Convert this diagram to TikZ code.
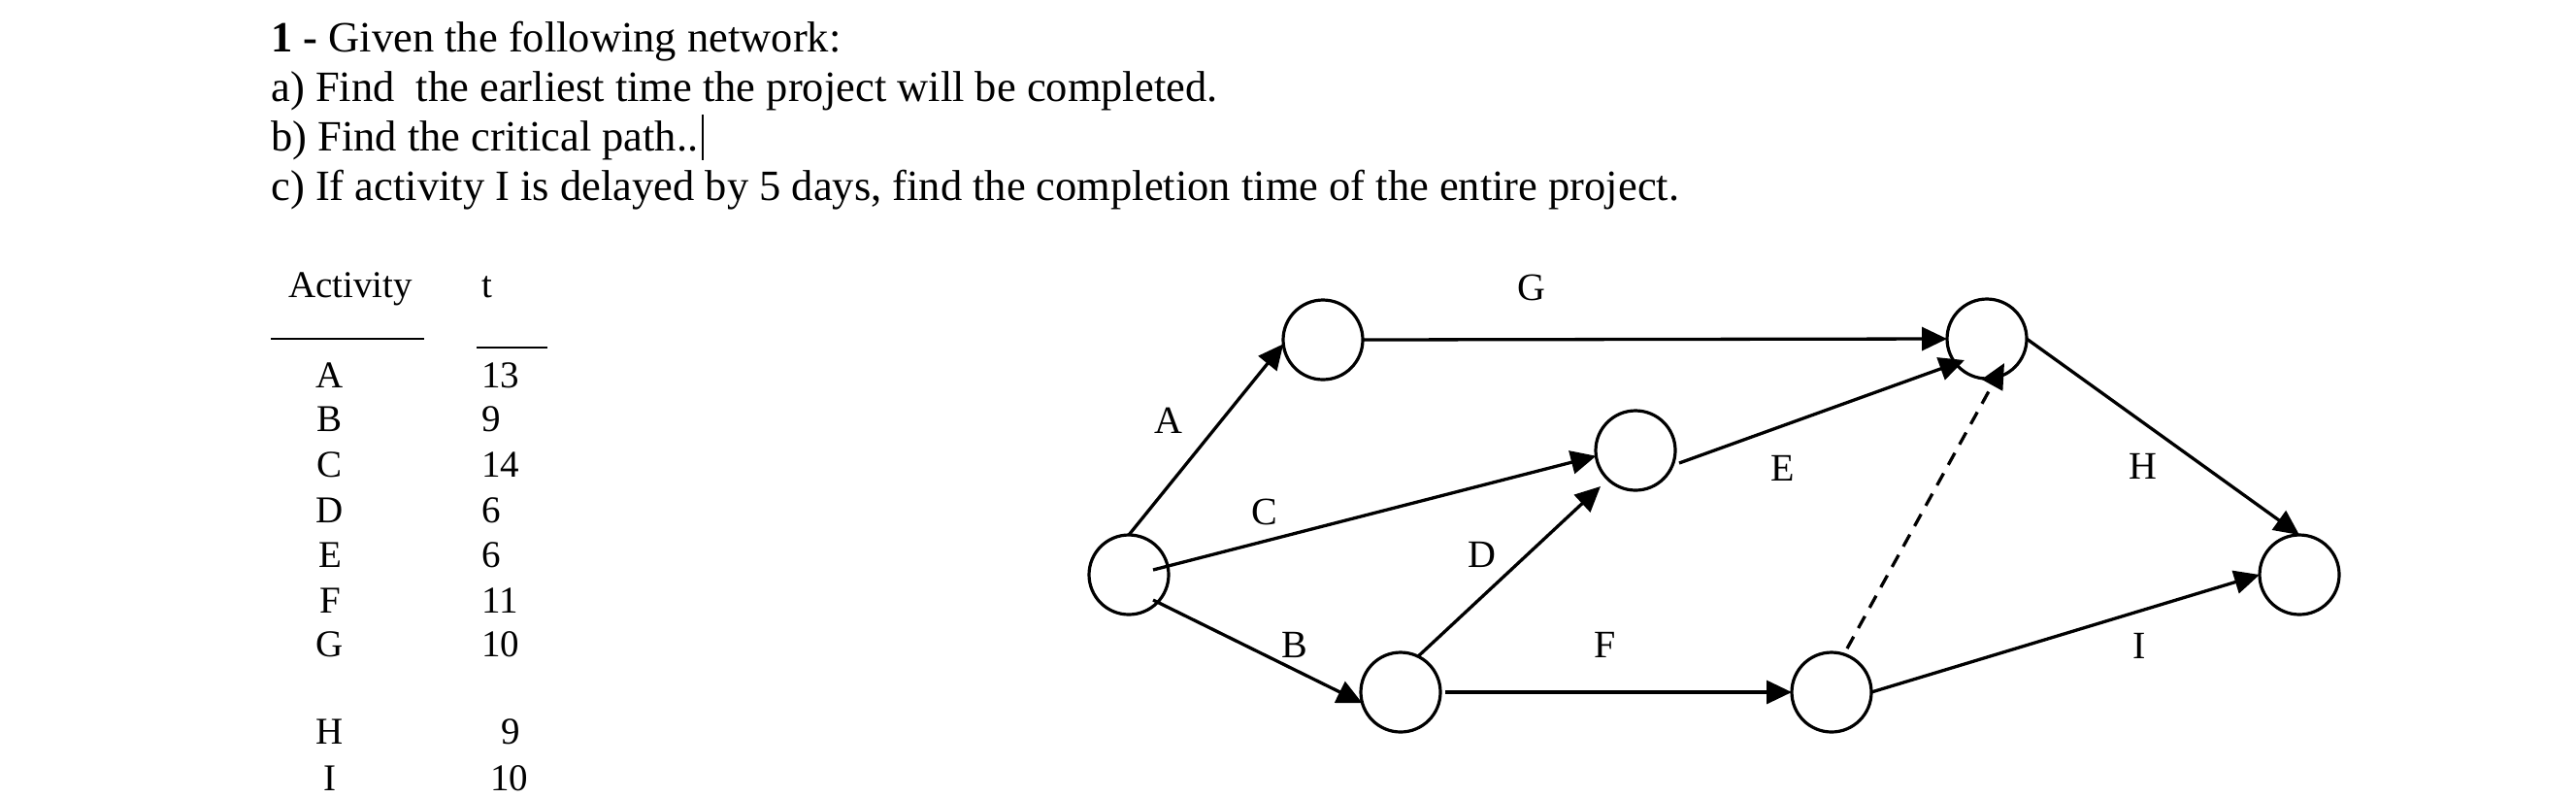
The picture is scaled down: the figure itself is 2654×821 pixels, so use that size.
\documentclass[tikz,border=0pt]{standalone}
\usepackage{fontspec}
\setmainfont{Liberation Serif}
\usetikzlibrary{arrows.meta,calc}
\begin{document}
\begin{tikzpicture}[x=0.5pt,y=-0.5pt,
  evt/.style={circle,draw,line width=1.6pt,minimum size=41pt,inner sep=0pt,outer sep=0pt},
  act/.style={line width=1.65pt,-{Triangle[length=13pt,width=12pt]}},
  dummy/.style={act,dash pattern=on 7pt off 5pt},
  lbl/.style={font=\fontsize{20pt}{24pt}\selectfont,inner sep=0pt},
  qtext/.style={font=\fontsize{22.25pt}{25.6pt}\selectfont,inner sep=0pt,anchor=base west},
  tab/.style={font=\fontsize{19.5pt}{23pt}\selectfont,inner sep=0pt},
  rule/.style={line width=1.1pt}
]
\useasboundingbox[fill=white] (0,0) rectangle (2654,821);

% question text
\node[qtext] (q1) at (279,53) {\textbf{1 -} Given the following network:};
\node[qtext] (qa) at (279,104) {a) Find\ \ the earliest time the project will be completed.};
\node[qtext] (qb) at (279,155) {b) Find the critical path..};
\node[qtext] (qc) at (279,206) {c) If activity I is delayed by 5 days, find the completion time of the entire project.};
\draw[line width=0.9pt] ($(qb.base east)+(4,-37)$) -- ($(qb.base east)+(4,10)$);

% table
\node[tab,anchor=base] (hact) at (361,306) {Activity};
\node[tab,anchor=base west] (ht) at (496,306) {t};
\draw[rule] (279,349) -- (437,349);
\draw[rule] (491,358) -- (564,358);
\foreach \l/\t/\y/\tx in {A/13/399/496, B/9/444/496, C/14/491/496, D/6/538/496, E/6/584/496, F/11/631/496, G/10/676/496, H/9/766/516, I/10/814/505}{
  \node[tab,anchor=base] (r\l) at (340,\y) {\l};
  \node[tab,anchor=base west] (t\l) at (\tx,\y) {\t};
}

% network events
\node[evt] (n0) at (1163,592) {};
\node[evt] (n1) at (1363,350) {};
\node[evt] (n2) at (1685,464) {};
\node[evt] (n3) at (1443,713) {};
\node[evt] (n4) at (1887,713) {};
\node[evt] (n5) at (2047,349) {};
\node[evt] (n6) at (2369,592) {};

% activities
\draw[act] (n0.north) -- (n1.186);
\draw[act] ($(n0)+(25,-5)$) -- (n2.188);
\draw[act] ($(n0)+(25,26)$) -- (n3.196);
\draw[act] (n3.64) -- ($(n2)+(-36,37)$);
\draw[act] ($(n3.east)+(5,0)$) -- (n4.west);
\draw[act] (n1.east) -- (n5.west);
\draw[act] ($(n2)+(45,13)$) -- ($(n5)+(-23,22)$);
\draw[dummy] ($(n4)+(16,-45)$) -- ($(n5)+(18,25)$);
\draw[act] (n5.east) -- (n6.north);
\draw[act] (n4.east) -- (n6.west);

% activity labels
\node[lbl] (lG) at (1578,296) {G};
\node[lbl] (lA) at (1204,433) {A};
\node[lbl] (lC) at (1303,527) {C};
\node[lbl] (lD) at (1527,571) {D};
\node[lbl] (lE) at (1837,482) {E};
\node[lbl] (lH) at (2208,480) {H};
\node[lbl] (lB) at (1334,664) {B};
\node[lbl] (lF) at (1654,664) {F};
\node[lbl] (lI) at (2204,665) {I};
\end{tikzpicture}
\end{document}
